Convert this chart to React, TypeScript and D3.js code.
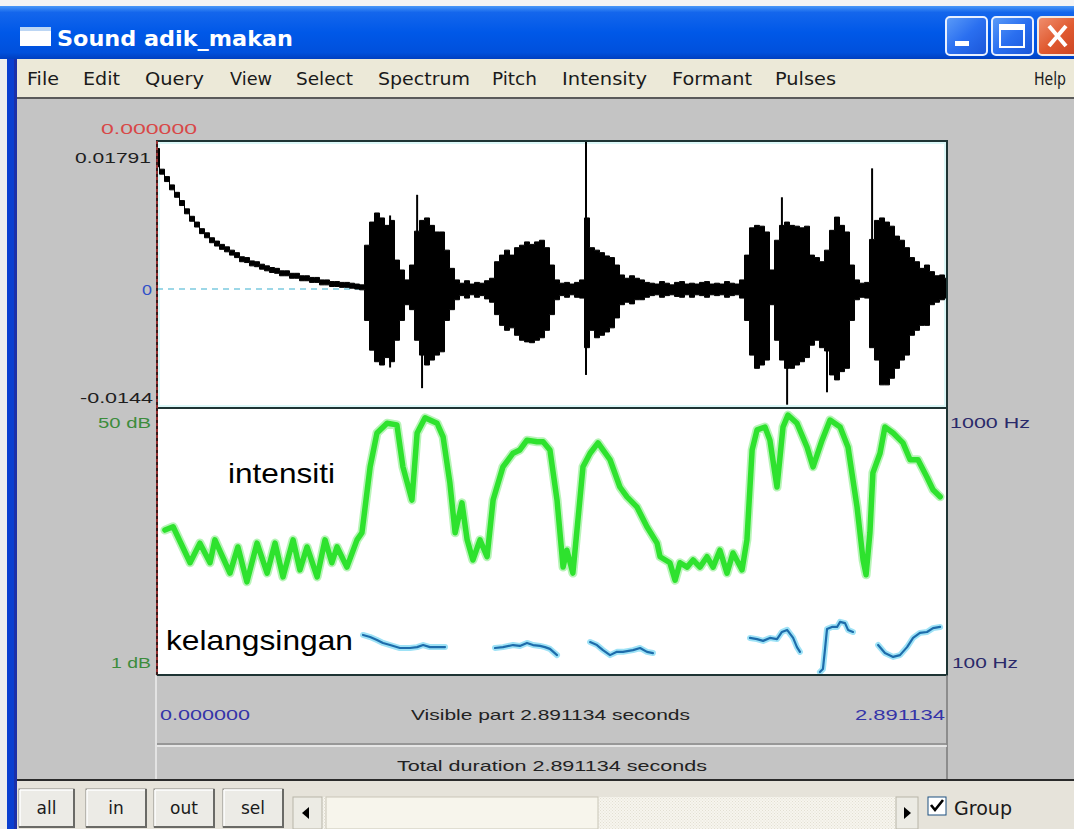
import React from "react";
import * as d3 from "d3";

// ---------- DATA ----------
const DURATION = 2.891134; // seconds
const AMP_MIN = -14.4; // x 0.001
const AMP_MAX = 17.91; // x 0.001

// waveform envelope (x 0.001), uniform over the duration
const waveTop = [
  17.0, 14.5, 13.6, 12.6, 11.7, 10.7, 9.7, 8.8, 8.1, 7.3, 6.8, 6.2, 5.8, 5.4, 5.1, 4.7, 4.4, 3.9, 3.8, 3.4, 3.3, 3.0,
  2.8, 2.6, 2.5, 2.2, 2.2, 1.9, 1.9, 1.6, 1.6, 1.4, 1.4, 1.1, 1.1, 0.9, 0.9, 0.8, 0.8, 0.7, 0.6, 0.5,
  5.3, 8.1, 9.2, 8.6, 7.7, 8.3, 3.5, 2.3, 1.1, 2.9, 7.0, 8.3, 8.6, 7.7, 6.9, 6.9, 4.7, 2.5, 1.1, 0.7,
  1.0, 0.6, 0.8, 0.7, 1.0, 1.3, 3.3, 4.1, 4.7, 4.1, 5.0, 5.3, 5.7, 5.4, 5.7, 5.9, 5.0, 2.9, 1.1, 0.7,
  0.8, 0.6, 0.8, 1.1, 8.6, 5.0, 4.7, 4.4, 4.0, 3.8, 2.9, 1.7, 1.3, 1.6, 1.3, 1.1, 0.8,
  0.7, 0.6, 0.9, 0.7, 0.5, 0.8, 0.9, 0.6, 0.7, 0.6, 0.8, 0.9, 0.6, 0.7, 0.6, 0.9, 0.7, 0.6, 1.1,
  4.1, 7.4, 7.7, 7.6, 6.9, 2.3, 5.9, 7.7, 8.1, 7.7, 7.6, 7.4, 7.6, 4.1, 3.8, 3.3, 4.7, 7.1, 8.7, 7.7,
  6.9, 2.9, 1.1, 0.7, 0.8, 6.0, 8.3, 8.6, 8.1, 7.6, 6.4, 5.9, 5.0, 3.8, 3.3, 2.5, 2.9, 2.1, 1.6, 1.7, 1.3,
];
const waveBottom = [
  14.8, 13.9, 13.0, 12.0, 11.1, 10.1, 9.1, 8.2, 7.5, 6.7, 6.2, 5.6, 5.2, 4.8, 4.5, 4.1, 3.8, 3.3, 3.2, 2.8, 2.7, 2.4,
  2.2, 2.0, 1.9, 1.6, 1.6, 1.3, 1.3, 1.0, 1.0, 0.8, 0.8, 0.5, 0.5, 0.3, 0.3, 0.2, 0.2, 0.1, 0.0, -0.1,
  -3.8, -7.4, -8.8, -9.2, -8.3, -8.8, -6.2, -3.8, -1.9, -2.5, -6.2, -8.0, -9.2, -8.6, -8.0, -7.6, -3.8, -2.5, -1.3, -0.8,
  -1.1, -0.7, -1.0, -0.8, -1.2, -1.6, -3.1, -4.4, -5.0, -4.7, -5.6, -6.2, -6.4, -6.5, -6.2, -5.9, -5.0, -3.1, -1.3, -0.8,
  -1.0, -0.7, -1.0, -1.1, -7.1, -5.0, -5.9, -5.6, -5.2, -4.7, -3.5, -1.9, -1.6, -1.8, -1.3, -1.3, -1.0,
  -0.8, -0.7, -1.0, -0.8, -0.7, -0.9, -1.0, -0.7, -1.0, -0.7, -0.8, -1.0, -0.7, -0.8, -0.7, -1.0, -0.8, -0.7, -1.1,
  -3.8, -8.0, -9.6, -9.2, -8.6, -1.9, -6.2, -8.6, -9.6, -9.6, -9.2, -8.8, -8.3, -6.8, -6.2, -7.1, -7.5, -10.4, -11.0, -10.0,
  -9.6, -3.8, -1.3, -1.0, -1.1, -7.1, -8.6, -11.6, -11.6, -10.8, -9.6, -8.6, -8.0, -5.6, -5.0, -4.4, -4.4, -1.9, -1.6, -1.3, -1.1,
];
// isolated peaks in the waveform
const spikeTimes = [0.853, 0.952, 0.970, 1.570, 2.287, 2.306, 2.452, 2.617];
const spikeTop = [8.9, 11.4, 0, 17.8, 11.1, 0, 0, 14.6];
const spikeBottom = [-9.5, 0, -12.0, -10.4, 0, -14.0, -12.5, 0];

// intensity (dB)
const intensityTimes = [
  0.029, 0.059, 0.121, 0.157, 0.194, 0.212, 0.267, 0.296, 0.329, 0.366, 0.403, 0.432, 0.461, 0.498, 0.523, 0.549, 0.586,
  0.615, 0.640, 0.659, 0.695, 0.732, 0.750, 0.780, 0.805, 0.842, 0.878, 0.900, 0.933, 0.952, 0.981, 1.025, 1.047, 1.072,
  1.091, 1.116, 1.135, 1.156, 1.182, 1.208, 1.230, 1.266, 1.303, 1.328, 1.354, 1.391, 1.413, 1.438, 1.464, 1.486, 1.500,
  1.522, 1.559, 1.585, 1.614, 1.658, 1.694, 1.720, 1.757, 1.793, 1.830, 1.841, 1.877, 1.896, 1.914, 1.940, 1.962, 1.987,
  2.013, 2.035, 2.060, 2.086, 2.108, 2.141, 2.159, 2.178, 2.196, 2.225, 2.243, 2.269, 2.291, 2.309, 2.342, 2.379, 2.401,
  2.434, 2.463, 2.500, 2.529, 2.562, 2.584, 2.595, 2.609, 2.620, 2.646, 2.664, 2.694, 2.730, 2.756, 2.785, 2.818, 2.840, 2.866,
];
const intensityDb = [
  27.6, 28.2, 21.6, 25.2, 21.6, 25.8, 19.7, 24.5, 18.1, 25.2, 19.7, 25.2, 19.0, 25.8, 20.3, 24.5, 19.0,
  25.8, 21.6, 24.5, 20.8, 25.8, 27.1, 39.2, 45.4, 47.2, 46.9, 39.2, 33.1, 45.4, 48.2, 47.2, 44.7, 36.2,
  27.1, 32.6, 25.8, 22.1, 25.8, 22.7, 33.1, 39.2, 41.7, 42.3, 44.1, 43.8, 43.8, 42.3, 33.1, 20.8, 23.9,
  19.7, 39.2, 41.7, 43.6, 40.5, 35.5, 33.7, 31.8, 28.2, 25.2, 22.7, 21.6, 18.4, 21.6, 20.8, 22.1, 20.8,
  22.7, 20.8, 23.9, 19.7, 23.4, 20.3, 25.8, 42.3, 46.0, 46.5, 44.1, 35.5, 46.5, 48.7, 47.2, 42.8, 39.2,
  44.1, 47.8, 46.5, 42.8, 31.8, 22.1, 19.4, 27.1, 38.1, 41.7, 46.5, 45.4, 43.6, 40.5, 40.5, 37.3, 35.0, 33.7,
];

// pitch (Hz), voiced segments
const pitchTimes1 = [0.754, 0.780, 0.805, 0.827, 0.853, 0.889, 0.926, 0.952, 0.974, 0.999, 1.025, 1.054];
const pitchHz1 = [235, 228, 218, 208, 201, 191, 191, 194, 201, 194, 194, 194];
const pitchTimes2 = [1.237, 1.266, 1.303, 1.328, 1.354, 1.376, 1.402, 1.420, 1.438, 1.464];
const pitchHz2 = [191, 194, 201, 198, 208, 201, 198, 194, 188, 167];
const pitchTimes3 = [1.585, 1.610, 1.632, 1.658, 1.683, 1.705, 1.742, 1.768, 1.793, 1.815];
const pitchHz3 = [211, 201, 184, 167, 178, 178, 184, 191, 178, 174];
const pitchTimes4 = [2.170, 2.196, 2.218, 2.243, 2.269, 2.287, 2.306, 2.328, 2.342, 2.353];
const pitchHz4 = [225, 221, 215, 225, 221, 245, 252, 225, 194, 178];
const pitchTimes5 = [2.426, 2.437, 2.445, 2.452, 2.470, 2.489, 2.500, 2.518, 2.529, 2.547];
const pitchHz5 = [110, 120, 190, 255, 262, 262, 279, 275, 252, 245];
const pitchTimes6 = [2.639, 2.664, 2.694, 2.719, 2.745, 2.767, 2.792, 2.818, 2.840, 2.866];
const pitchHz6 = [201, 174, 161, 167, 194, 225, 242, 245, 258, 262];

const menuItems = ["File", "Edit", "Query", "View", "Select", "Spectrum", "Pitch", "Intensity", "Formant", "Pulses", "Help"];
const buttonLabels = ["all", "in", "out", "sel"];

// ---------- COMPONENT ----------
export default function App() {
  const W = 1074;
  const H = 829;
  const L = 157, R = 947;
  const T1 = 141, B1 = 408, T2 = 408, B2 = 675;

  const x = d3.scaleLinear().domain([0, DURATION]).range([L, R]);
  const yAmp = d3.scaleLinear().domain([AMP_MIN, AMP_MAX]).range([B1, T1]);
  const yDb = d3.scaleLinear().domain([1, 50]).range([B2, T2]);
  const yHz = d3.scaleLinear().domain([100, 1000]).range([B2, T2]);

  const n = waveTop.length;
  const waveTimes = d3.range(n).map((i) => (i * DURATION) / (n - 1));
  const waveArea = d3
    .area<number>()
    .x((_, i) => x(waveTimes[i]))
    .y0((_, i) => yAmp(waveBottom[i]))
    .y1((d) => yAmp(d))
    .curve(d3.curveStep);

  const intLine = d3
    .line<number>()
    .x((_, i) => x(intensityTimes[i]))
    .y((d) => yDb(d));

  const pitchSegs = [
    [pitchTimes1, pitchHz1],
    [pitchTimes2, pitchHz2],
    [pitchTimes3, pitchHz3],
    [pitchTimes4, pitchHz4],
    [pitchTimes5, pitchHz5],
    [pitchTimes6, pitchHz6],
  ];
  const pitchPath = (ts: number[], hz: number[]) =>
    d3
      .line<number>()
      .x((_, i) => x(ts[i]))
      .y((d) => yHz(d))(hz) || "";

  const menuLayout: Record<string, [number, number]> = {
    File: [27, 32], Edit: [83, 37], Query: [145, 59], View: [230, 42], Select: [296, 57],
    Spectrum: [378, 92], Pitch: [492, 45], Intensity: [562, 85], Formant: [672, 80], Pulses: [775, 61], Help: [1034, 32],
  };
  const btnLayout: [number, number][] = [[19, 55], [86, 60], [154, 60], [223, 60]];

  const sans = "'Liberation Sans', Arial, sans-serif";
  const ui = "'DejaVu Sans', Verdana, sans-serif";

  const T = (props: any) => <text lengthAdjust="spacingAndGlyphs" {...props} />;

  return (
    <svg width={W} height={H} style={{ position: "absolute", left: 0, top: 0 }} fontFamily={sans}>
      <defs>
        <linearGradient id="titleGrad" x1="0" y1="0" x2="0" y2="1">
          <stop offset="0" stopColor="#4a98f8" />
          <stop offset="0.12" stopColor="#1466ec" />
          <stop offset="0.5" stopColor="#0058e8" />
          <stop offset="0.88" stopColor="#0050dc" />
          <stop offset="1" stopColor="#003fc0" />
        </linearGradient>
        <linearGradient id="btnBlue" x1="0" y1="0" x2="1" y2="1">
          <stop offset="0" stopColor="#5c9cf8" />
          <stop offset="0.5" stopColor="#2a6ff0" />
          <stop offset="1" stopColor="#1a55d8" />
        </linearGradient>
        <linearGradient id="btnRed" x1="0" y1="0" x2="1" y2="1">
          <stop offset="0" stopColor="#f09070" />
          <stop offset="0.5" stopColor="#e05a30" />
          <stop offset="1" stopColor="#c84020" />
        </linearGradient>
        <pattern id="dots" width="3" height="3" patternUnits="userSpaceOnUse">
          <rect width="3" height="3" fill="#f7f5ee" />
          <rect width="1" height="1" fill="#e2dfd2" />
          <rect x="1.5" y="1.5" width="1" height="1" fill="#e2dfd2" />
        </pattern>
        <clipPath id="clipWave">
          <rect x={L} y={T1} width={R - L} height={B1 - T1} />
        </clipPath>
        <clipPath id="clipLow">
          <rect x={L} y={T2} width={R - L} height={B2 - T2} />
        </clipPath>
      </defs>

      {/* window background */}
      <rect x={0} y={0} width={W} height={H} fill="#c4c4c4" />
      <rect x={0} y={0} width={W} height={7} fill="#f4f4f4" />
      {/* title bar */}
      <rect x={0} y={6} width={W} height={53} fill="url(#titleGrad)" />
      <rect x={20} y={27} width={31} height={19} fill="#ffffff" />
      <rect x={20} y={27} width={31} height={4} fill="#bcd6f4" />
      <T x={57} y={46} fontFamily={ui} fontWeight="bold" fontSize={21} fill="#ffffff" textLength={236}>
        Sound adik_makan
      </T>
      {/* window buttons */}
      <rect x={946} y={17} width={41} height={38} rx={4} fill="url(#btnBlue)" stroke="#e8f0ff" strokeWidth={2} />
      <rect x={955} y={41} width={14} height={5} fill="#ffffff" />
      <rect x={992} y={17} width={41} height={38} rx={4} fill="url(#btnBlue)" stroke="#e8f0ff" strokeWidth={2} />
      <rect x={1000} y={25} width={24} height={22} fill="none" stroke="#ffffff" strokeWidth={2} />
      <rect x={1000} y={25} width={24} height={5} fill="#ffffff" />
      <rect x={1038} y={17} width={44} height={38} rx={4} fill="url(#btnRed)" stroke="#f4e8e0" strokeWidth={2} />
      <path d="M1049,26 L1066,46 M1066,26 L1049,46" stroke="#ffffff" strokeWidth={4} />

      {/* menu bar */}
      <rect x={0} y={59} width={W} height={39} fill="#ece9d8" />
      <rect x={0} y={97} width={W} height={2} fill="#5a5a5a" />
      {menuItems.map((m) => (
        <T key={m} x={menuLayout[m][0]} y={85} fontFamily={ui} fontSize={17} fill="#1a1a1a" textLength={menuLayout[m][1]}>
          {m}
        </T>
      ))}

      {/* left window border */}
      <rect x={0} y={59} width={7} height={H - 59} fill="#eeeeee" />
      <rect x={7} y={59} width={10} height={H - 59} fill="#0a3fd0" />
      <rect x={14} y={59} width={3} height={H - 59} fill="#1c30a8" />

      {/* gray editor area */}
      <rect x={17} y={99} width={W - 17} height={681} fill="#c4c4c4" />

      {/* waveform panel */}
      <rect x={L} y={T1} width={R - L} height={B1 - T1} fill="#ffffff" />
      <rect x={L + 2} y={T1 + 2} width={R - L - 4} height={B1 - T1 - 4} fill="none" stroke="#dcf8f8" strokeWidth={2} />
      <g clipPath="url(#clipWave)">
        <line x1={L} x2={R} y1={yAmp(0)} y2={yAmp(0)} stroke="#3ab0d0" strokeWidth={1.2} strokeDasharray="6 5" />
        <path d={waveArea(waveTop) || ""} fill="#000000" stroke="#000000" strokeWidth={1} />
        {spikeTimes.map((t, i) => (
          <line key={i} x1={x(t)} x2={x(t)} y1={yAmp(spikeTop[i])} y2={yAmp(spikeBottom[i])} stroke="#000000" strokeWidth={2} />
        ))}
      </g>
      <rect x={L} y={T1} width={R - L} height={B1 - T1} fill="none" stroke="#1e3434" strokeWidth={2} />

      {/* intensity / pitch panel */}
      <rect x={L} y={T2} width={R - L} height={B2 - T2} fill="#ffffff" />
      <g clipPath="url(#clipLow)">
        <path d={intLine(intensityDb) || ""} fill="none" stroke="#b8f4b8" strokeWidth={9} strokeLinejoin="round" strokeLinecap="round" />
        <path d={intLine(intensityDb) || ""} fill="none" stroke="#2ee22e" strokeWidth={5.5} strokeLinejoin="round" strokeLinecap="round" />
        {pitchSegs.map(([ts, hz], i) => (
          <g key={i}>
            <path d={pitchPath(ts, hz)} fill="none" stroke="#9ee2f6" strokeWidth={6} strokeLinejoin="round" strokeLinecap="round" />
            <path d={pitchPath(ts, hz)} fill="none" stroke="#1d6cab" strokeWidth={2.2} strokeLinejoin="round" strokeLinecap="round" />
          </g>
        ))}
      </g>
      <rect x={L} y={T2} width={R - L} height={B2 - T2} fill="none" stroke="#1e3434" strokeWidth={2} />

      {/* cursor at 0 */}
      <line x1={L} x2={L} y1={T1} y2={B2} stroke="#3a1a1a" strokeWidth={2} />
      <line x1={L} x2={L} y1={T1} y2={B2} stroke="#d04040" strokeWidth={1.2} strokeDasharray="3 3" />

      {/* annotations */}
      <T x={228} y={483} fontSize={28} fill="#000000" textLength={107}>intensiti</T>
      <T x={166} y={650} fontSize={28} fill="#000000" textLength={187}>kelangsingan</T>

      {/* axis labels */}
      <T x={101} y={134} fontSize={15} fill="#d84848" textLength={96}>0.000000</T>
      <T x={75} y={163} fontSize={15} fill="#1e1e1e" textLength={76}>0.01791</T>
      <T x={142} y={295} fontSize={15} fill="#3050c8" textLength={10}>0</T>
      <T x={80} y={403} fontSize={15} fill="#1e1e1e" textLength={73}>-0.0144</T>
      <T x={98} y={428} fontSize={15} fill="#3c8c3c" textLength={53}>50 dB</T>
      <T x={111} y={668} fontSize={15} fill="#3c8c3c" textLength={40}>1 dB</T>
      <T x={950} y={428} fontSize={15} fill="#2a2a6a" textLength={80}>1000 Hz</T>
      <T x={952} y={668} fontSize={15} fill="#2a2a6a" textLength={66}>100 Hz</T>

      {/* info panel */}
      <line x1={L - 1} x2={L - 1} y1={B2} y2={779} stroke="#eeeeee" strokeWidth={1.5} />
      <line x1={R} x2={R} y1={B2} y2={779} stroke="#7a7a7a" strokeWidth={1.5} />
      <line x1={L} x2={R} y1={744} y2={744} stroke="#888888" strokeWidth={1.5} />
      <line x1={L} x2={R} y1={746} y2={746} stroke="#f2f2f2" strokeWidth={1.5} />
      <T x={160} y={720} fontSize={15} fill="#3434a8" textLength={90}>0.000000</T>
      <T x={411} y={720} fontSize={15} fill="#222222" textLength={279}>Visible part 2.891134 seconds</T>
      <T x={855} y={720} fontSize={15} fill="#3434a8" textLength={90}>2.891134</T>
      <T x={397} y={771} fontSize={15} fill="#222222" textLength={310}>Total duration 2.891134 seconds</T>

      {/* bottom bar */}
      <rect x={17} y={779} width={W - 17} height={2} fill="#2a2a2a" />
      <rect x={17} y={781} width={W - 17} height={H - 781} fill="#e6e3da" />
      {buttonLabels.map((b, i) => {
        const [bx, bw] = btnLayout[i];
        return (
          <g key={b}>
            <rect x={bx} y={789} width={bw} height={38} fill="#ecebe6" stroke="#8a8a84" strokeWidth={1} />
            <line x1={bx + 1} x2={bx + bw - 1} y1={790} y2={790} stroke="#ffffff" strokeWidth={1.5} />
            <line x1={bx + 1} x2={bx + 1} y1={790} y2={826} stroke="#ffffff" strokeWidth={1.5} />
            <line x1={bx} x2={bx + bw} y1={827} y2={827} stroke="#6a6a66" strokeWidth={2} />
            <line x1={bx + bw} x2={bx + bw} y1={789} y2={828} stroke="#6a6a66" strokeWidth={2} />
            <T x={bx + bw / 2} y={814} textAnchor="middle" fontFamily={ui} fontSize={17} fill="#1a1a1a">
              {b}
            </T>
          </g>
        );
      })}

      {/* scrollbar */}
      <rect x={322} y={797} width={596} height={32} fill="url(#dots)" />
      <rect x={293} y={797} width={29} height={32} fill="#ecebe4" stroke="#b8b5a8" />
      <path d="M302,813 L309,807 L309,819 Z" fill="#000000" />
      <rect x={326} y={797} width={272} height={32} fill="#f7f5ec" stroke="#c9c6b8" />
      <rect x={896} y={797} width={22} height={32} fill="#ecebe4" stroke="#b8b5a8" />
      <path d="M911,813 L904,807 L904,819 Z" fill="#000000" />

      {/* Group checkbox */}
      <rect x={928} y={797} width={18} height={18} fill="#ffffff" stroke="#1c5180" strokeWidth={1} />
      <path d="M931,805 L935,810 L943,800" fill="none" stroke="#000000" strokeWidth={2.6} />
      <T x={954} y={815} fontFamily={ui} fontSize={19} fill="#1a1a1a" textLength={58}>Group</T>
    </svg>
  );
}
